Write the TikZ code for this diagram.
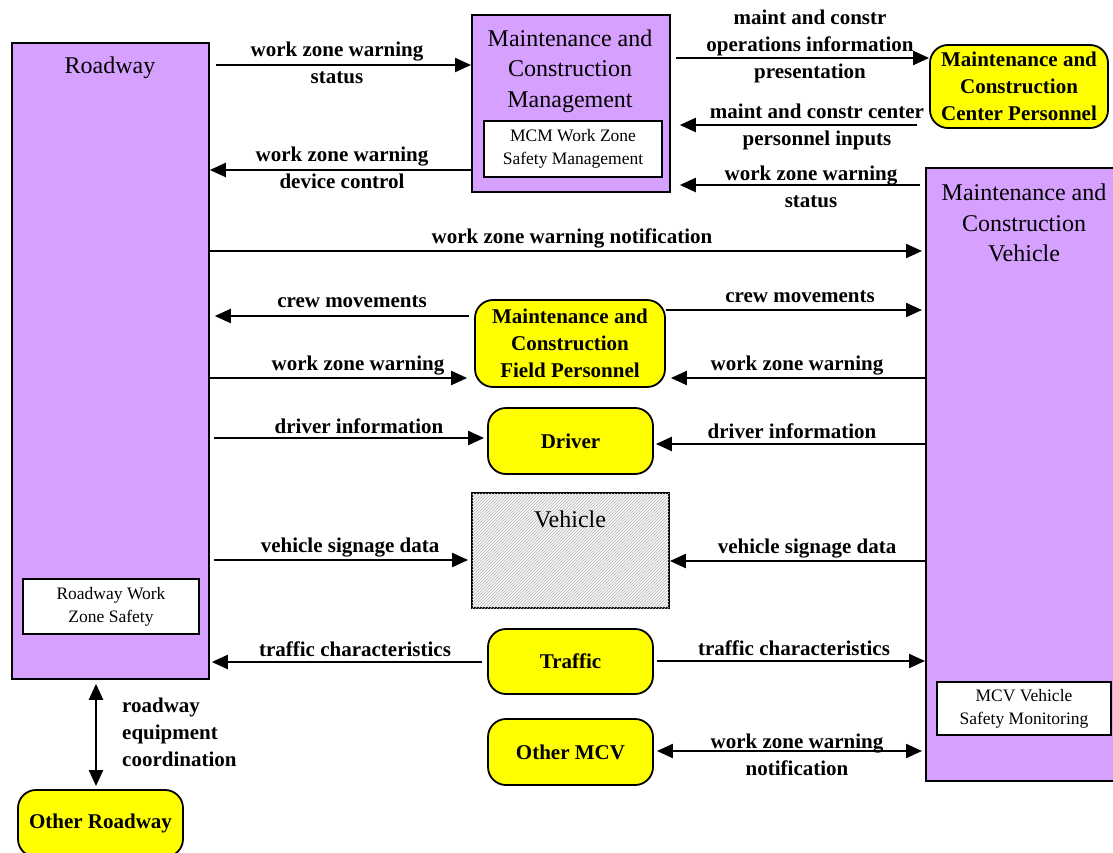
\documentclass[tikz,border=0pt]{standalone}
\usepackage{fontspec}
\setmainfont{Liberation Serif}
\usetikzlibrary{arrows.meta,patterns,calc}
\definecolor{purp}{RGB}{214,160,255}
\definecolor{yel}{RGB}{255,255,0}
\begin{document}
\begin{tikzpicture}[x=1pt,y=-1pt,
  box/.style={draw=black, line width=1.8pt, fill=purp, anchor=north west, inner sep=0pt},
  inbox/.style={draw=black, line width=1.3pt, fill=white, inner sep=0pt, align=center,
                font=\fontsize{17.5}{23}\selectfont},
  term/.style={draw=black, line width=1.8pt, fill=yel, rounded corners=18pt, inner sep=0pt,
               align=center, font=\bfseries\fontsize{21}{27}\selectfont},
  ttl/.style={font=\fontsize{24}{30.5}\selectfont, align=center, inner sep=0pt},
  lbl/.style={font=\bfseries\fontsize{21}{27}\selectfont, align=center, inner sep=0pt},
  arr/.style={line width=2.2pt, -{Triangle[length=16pt,width=14pt]}},
  darr/.style={line width=2.2pt, {Triangle[length=16pt,width=14pt]}-{Triangle[length=16pt,width=14pt]}},
]
\useasboundingbox (0,0) rectangle (1113,853);

% ---- purple boxes
\node[box, minimum width=197pt, minimum height=636pt] (road) at (11,42) {};
\node[ttl] (roadt) at (110,68) {Roadway};
\node[inbox, minimum width=176pt, minimum height=55pt] (roadi) at (111,606.5) {Roadway Work\\Zone Safety};

\node[box, minimum width=198pt, minimum height=177pt] (mcm) at (471,14) {};
\node[ttl] (mcmt) at (570,71) {Maintenance and\\Construction\\Management};
\node[inbox, minimum width=178pt, minimum height=56pt] (mcmi) at (573,149) {MCM Work Zone\\Safety Management};

\node[box, minimum width=200pt, minimum height=613pt] (mcv) at (925,167) {};
\node[ttl] (mcvt) at (1024,223) {Maintenance and\\Construction\\Vehicle};
\node[inbox, minimum width=174pt, minimum height=53pt] (mcvi) at (1024,708.5) {MCV Vehicle\\Safety Monitoring};

% ---- vehicle (hatched)
\node[draw=black, line width=1.8pt, fill=gray!6,
      postaction={pattern=north east lines, pattern color=gray!55},
      minimum width=197pt, minimum height=115pt, inner sep=0pt] (veh) at (570.5,550.5) {};
\node[ttl] (veht) at (570,519) {Vehicle};

% ---- yellow terminators
\node[term, minimum width=178pt, minimum height=83pt] (mccp) at (1019,86.5) {Maintenance and\\Construction\\Center Personnel};
\node[term, minimum width=190pt, minimum height=87pt] (mcfp) at (570,343.5) {Maintenance and\\Construction\\Field Personnel};
\node[term, minimum width=165pt, minimum height=66pt] (driver) at (570.5,441) {Driver};
\node[term, minimum width=165pt, minimum height=65pt] (traffic) at (570.5,661.5) {Traffic};
\node[term, minimum width=165pt, minimum height=66pt] (omcv) at (570.5,752) {Other MCV};
\node[term, minimum width=165pt, minimum height=67pt] (oroad) at (100.5,823.5) {Other Roadway};

% ---- connectors
\draw[arr, shorten <=6pt] (road.east |- 0,65) -- (mcm.west |- 0,65);
\node[lbl] (l1) at (337,63) {work zone warning\\status};

\draw[arr] (mcm.west |- 0,170) -- (road.east |- 0,170);
\node[lbl] (l2) at (342,167.5) {work zone warning\\device control};

\draw[arr, shorten <=5pt] (mcm.east |- 0,58) -- (mccp.west |- 0,58);
\node[lbl] (l3) at (810,46) {maint and constr\\operations information\\presentation};

\draw[arr, shorten <=12pt, shorten >=9pt] (mccp.west |- 0,125) -- (mcm.east |- 0,125);
\node[lbl] (l4) at (817,126.5) {maint and constr center\\personnel inputs};

\draw[arr, shorten <=5pt, shorten >=9pt] (mcv.west |- 0,185) -- (mcm.east |- 0,185);
\node[lbl] (l5) at (811,186.5) {work zone warning\\status};

\draw[arr, shorten >=3pt] (road.east |- 0,251) -- (mcv.west |- 0,251);
\node[lbl] (l6) at (572,238) {work zone warning notification};

\draw[arr, shorten <=5pt, shorten >=5pt] (mcfp.west |- 0,316) -- (road.east |- 0,316);
\node[lbl] (l7) at (352,302) {crew movements};

\draw[arr, shorten >=3pt] (mcfp.east |- 0,310) -- (mcv.west |- 0,310);
\node[lbl] (l8) at (800,297) {crew movements};

\draw[arr, shorten >=7pt] (road.east |- 0,378) -- (mcfp.west |- 0,378);
\node[lbl] (l9) at (358,366) {work zone warning};

\draw[arr, shorten >=5pt] (mcv.west |- 0,378) -- (mcfp.east |- 0,378);
\node[lbl] (l10) at (797,366) {work zone warning};

\draw[arr, shorten <=4pt, shorten >=3pt] (road.east |- 0,438) -- (driver.west |- 0,438);
\node[lbl] (l11) at (359,426) {driver information};

\draw[arr, shorten >=2pt] (mcv.west |- 0,444) -- (driver.east |- 0,444);
\node[lbl] (l12) at (792,431) {driver information};

\draw[arr, shorten <=4pt, shorten >=3pt] (road.east |- 0,560) -- (veh.west |- 0,560);
\node[lbl] (l13) at (350,548) {vehicle signage data};

\draw[arr] (mcv.west |- 0,561) -- (veh.east |- 0,561);
\node[lbl] (l14) at (807,549) {vehicle signage data};

\draw[arr, shorten <=5pt, shorten >=2pt] (traffic.west |- 0,662) -- (road.east |- 0,662);
\node[lbl] (l15) at (355,649) {traffic characteristics};

\draw[arr, shorten <=3pt] (traffic.east |- 0,661) -- (mcv.west |- 0,661);
\node[lbl] (l16) at (794,648) {traffic characteristics};

\draw[darr, shorten <=3pt, shorten >=3pt] (omcv.east |- 0,751) -- (mcv.west |- 0,751);
\node[lbl] (l17) at (797,754.5) {work zone warning\\notification};

\draw[darr, shorten <=4pt, shorten >=3pt] (road.south -| 96,0) -- (oroad.north -| 96,0);
\node[lbl, align=left, anchor=west] (l18) at (122,732.5) {roadway\\equipment\\coordination};
\end{tikzpicture}
\end{document}
